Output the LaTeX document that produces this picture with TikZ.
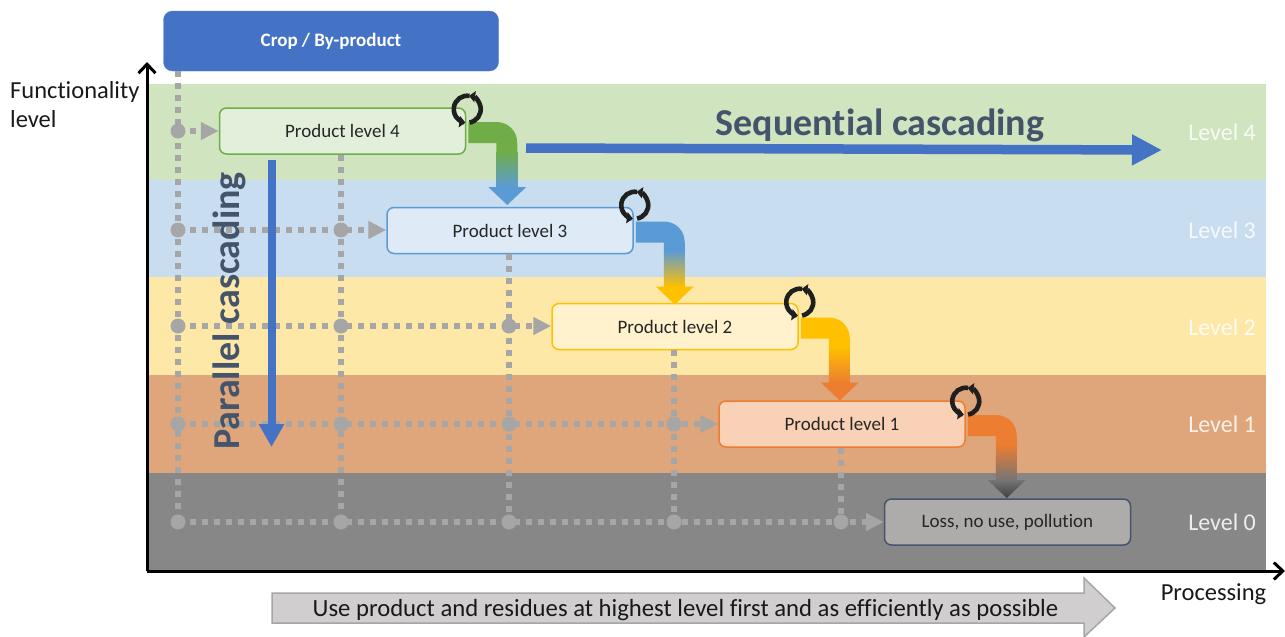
\documentclass[tikz,border=0pt]{standalone}
\usepackage{fontspec}
\setmainfont[RawFeature=-liga]{Carlito}
\usetikzlibrary{arrows.meta,shapes.arrows}
\definecolor{bandA}{HTML}{D0E5BF}
\definecolor{bandB}{HTML}{C8DDEF}
\definecolor{bandC}{HTML}{FDE8A8}
\definecolor{bandD}{HTML}{DFA57B}
\definecolor{bandE}{HTML}{878787}
\definecolor{cblue}{HTML}{4472C4}
\definecolor{slate}{HTML}{44546A}
\definecolor{cgreen}{HTML}{70AD47}
\definecolor{lblue}{HTML}{5B9BD5}
\definecolor{cyel}{HTML}{FFC000}
\definecolor{corg}{HTML}{ED7D31}
\definecolor{dgrey}{HTML}{404040}
\definecolor{mgrey}{HTML}{757575}
\definecolor{dotg}{HTML}{A6A6A6}
\definecolor{lossg}{HTML}{AEABAB}
\definecolor{procg}{HTML}{D0CECE}
\tikzset{
  band/.style={fill=#1,draw=none},
  prod/.style n args={2}{draw=#1,fill=#2,line width=1.5pt,rounded corners=7pt,minimum width=246pt,minimum height=46pt,inner sep=0pt,font=\fontsize{19}{22}\selectfont,text=black!85},
  dotline/.style={draw=dotg,line width=5.5pt,dash pattern=on 6pt off 6pt},
  dotarrow/.style={dotline,-{Triangle[length=18pt,width=17pt,sep=0pt]}},
  junction/.style={circle,fill=dotg,minimum size=15pt,inner sep=0pt},
  lev/.style={anchor=east,inner sep=0pt,text=white,opacity=.85,font=\fontsize{24}{28}\selectfont},
  lab/.style={font=\fontsize{24.5}{30}\selectfont,text=black!90,inner sep=0pt},
  heading/.style={text=slate,inner sep=0pt,font=\bfseries\fontsize{38}{42}\selectfont},
  seqarrow/.style={draw=cblue,line width=9.5pt,-{Triangle[length=30pt,width=29pt]}},
  pararrow/.style={draw=cblue,line width=8pt,-{Triangle[length=23pt,width=24pt]}},
  axisline/.style={draw=black,line width=3pt,-{Straight Barb[length=9pt,width=17pt,line width=3pt]}},
  cyc/.style={draw=black!88,line width=4.6pt,-{Triangle[length=6pt,width=11pt]}}
}
\newcommand\bentarrow[4]{%
  \begin{scope}[shift={(#1.east)}]
    \fill[#2] (2,-9) -- (30,-9) .. controls (42,-9) and (51,0) .. (51,12) -- (51,20.5) -- (30,20.5) -- (30,12) -- (2,12) -- cycle;
    \shade[top color=#2,bottom color=#3] (30,20) rectangle (51,56.5);
    \shade[top color=#3,bottom color=#4] (51,56) -- (60,56) -- (41,74) -- (22,56) -- (30,56) -- cycle;
  \end{scope}}
\newcommand\cycleicon[2]{%
  \begin{scope}[shift={(#1.north east)},y=1pt]
    \begin{scope}[shift={(#2)}]
      \draw[cyc] (80:13.5pt) arc[start angle=80,end angle=262,radius=13.5pt];
      \draw[cyc] (-80:13.5pt) arc[start angle=-80,end angle=82,radius=13.5pt];
    \end{scope}
  \end{scope}}
\begin{document}
\begin{tikzpicture}[x=1pt,y=-1pt]
\useasboundingbox (0,0) rectangle (1285,637);
% bands
\fill[band=bandA] (147,84) rectangle (1266,180);
\fill[band=bandB] (147,180) rectangle (1266,277);
\fill[band=bandC] (147,277) rectangle (1266,375);
\fill[band=bandD] (147,375) rectangle (1266,473);
\fill[band=bandE] (147,473) rectangle (1266,571);
% nodes
\node[draw=cblue!90!white,fill=cblue,rounded corners=9pt,minimum width=335pt,minimum height=60pt,inner sep=0pt,text=white,font=\bfseries\fontsize{19}{22}\selectfont] (crop) at (331,41) {\raisebox{-3.5pt}{Crop / By-product}};
\node[prod={cgreen}{cgreen!20!white}] (p4) at (342.5,131) {Product level 4};
\node[prod={lblue}{lblue!20!white}] (p3) at (510,230.5) {Product level 3};
\node[prod={cyel}{cyel!20!white}] (p2) at (675,326.5) {Product level 2};
\node[prod={corg}{corg!35!white}] (p1) at (842,424) {Product level 1};
\node[prod={slate}{lossg}] (p0) at (1007.5,522) {Loss, no use, pollution};
% junctions
\foreach \n/\x/\y in {a4/178/131,a3/178/230,a2/178/326,a1/178/424,a0/178/522,
  b3/341/230,b2/341/326,b1/341/424,b0/341/522,
  c2/509/326,c1/509/424,c0/509/522,
  d1/674/424,d0/674/522,
  e0/841/522}{\node[junction] (\n) at (\x,\y) {};}
% dotted lines
\draw[dotline] (crop.south -| a4) -- (a0.center);
\draw[dotline] (p4.south -| b3) -- (b0.center);
\draw[dotline] (p3.south -| c2) -- (c0.center);
\draw[dotline] (p2.south -| d1) -- (d0.center);
\draw[dotline] (p1.south -| e0) -- (e0.center);
\draw[dotarrow] (a4.center) -- (p4.west |- a4);
\draw[dotarrow] (a3.center) -- (p3.west |- a3);
\draw[dotarrow] (a2.center) -- (p2.west |- a2);
\draw[dotarrow] (a1.center) -- (p1.west |- a1);
\draw[dotarrow] (a0.center) -- (p0.west |- a0);
% bent arrows
\bentarrow{p4}{cgreen}{lblue}{lblue}
\bentarrow{p3}{lblue}{cyel}{cyel}
\bentarrow{p2}{cyel}{corg}{corg}
\bentarrow{p1}{corg}{mgrey}{dgrey}
\cycleicon{p4}{1pt,-2pt}
\cycleicon{p3}{1pt,1.5pt}
\cycleicon{p2}{1pt,0.5pt}
\cycleicon{p1}{0pt,-1pt}
% big blue arrows
\coordinate (sa) at (526,148);
\coordinate (sb) at (1162,150);
\coordinate (pa) at (271.5,160);
\coordinate (pb) at (271.5,447);
\draw[seqarrow] (sa) -- (sb);
\draw[pararrow] (pa) -- (pb);
\node[heading] (seq) at (880,125) {Sequential cascading};
\node[heading,rotate=90] (par) at (229,311) {Parallel cascading};
% axes
\coordinate (orig) at (147,571);
\coordinate (ytop) at (147,62);
\coordinate (xend) at (1285,571);
\draw[axisline] (orig) -- (ytop);
\draw[axisline] (orig) -- (xend);
\node[lab,anchor=west,align=left,font=\fontsize{24.5}{29}\selectfont] (fl) at (10,105) {Functionality\\level};
\node[lab] (proc) at (1213.5,594) {Processing};
% levels
\node[lev] (l4) at (1256,132) {Level 4};
\node[lev] (l3) at (1256,230) {Level 3};
\node[lev] (l2) at (1256,327) {Level 2};
\node[lev] (l1) at (1256,424) {Level 1};
\node[lev] (l0) at (1256,522) {Level 0};
% process arrow
\draw[draw=dotg,fill=procg,line width=1.5pt] (272,593) -- (1084,593) -- (1084,578) -- (1115,608) -- (1084,637) -- (1084,623) -- (272,623) -- cycle;
\node[font=\fontsize{24.7}{28}\selectfont,text=black!90,inner sep=0pt] (use) at (685.5,610) {Use product and residues at highest level first and as efficiently as possible};
\end{tikzpicture}
\end{document}
